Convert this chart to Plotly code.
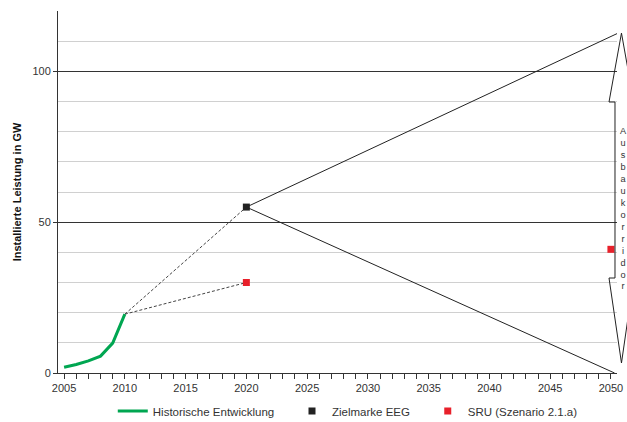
"""Installierte Leistung: historische Entwicklung und Ausbaukorridor bis 2050."""

import plotly.graph_objects as go

# historische Entwicklung (GW)
hist_years = [2005, 2006, 2007, 2008, 2009, 2010]
hist_values = [1.9, 2.8, 4.0, 5.6, 9.9, 19.5]

# Zielmarke EEG
eeg_years = [2020]
eeg_values = [55]

# SRU (Szenario 2.1.a)
sru_years = [2020, 2050]
sru_values = [30, 41]

# Ausbaukorridor ab 2020
corridor_upper_years = [2020, 2050.5]
corridor_upper_values = [55, 112.5]
corridor_lower_years = [2020, 2050.3]
corridor_lower_values = [55, 0]

x_tick_vals = [2005, 2010, 2015, 2020, 2025, 2030, 2035, 2040, 2045, 2050]
y_tick_vals = [0, 50, 100]

FONT = "Liberation Sans, Arial, sans-serif"
GREEN = "#00A651"
RED = "#E8202A"
DARK = "#222222"
PAD = "\u00a0" * 4  # widens legend entries a little

fig = go.Figure()

# dashed connectors from 2010 to the 2020 targets
for yr, val in [(eeg_years[0], eeg_values[0]), (sru_years[0], sru_values[0])]:
    fig.add_trace(go.Scatter(
        x=[hist_years[-1], yr],
        y=[hist_values[-1], val],
        mode="lines",
        line=dict(color="#444444", width=1, dash="3px,2px"),
        showlegend=False,
        hoverinfo="skip",
    ))

for xs, ys in [(corridor_upper_years, corridor_upper_values),
               (corridor_lower_years, corridor_lower_values)]:
    fig.add_trace(go.Scatter(
        x=xs, y=ys, mode="lines",
        line=dict(color=DARK, width=1),
        showlegend=False, hoverinfo="skip", cliponaxis=False,
    ))

fig.add_trace(go.Scatter(
    x=hist_years, y=hist_values, mode="lines",
    name="Historische Entwicklung" + PAD,
    line=dict(color=GREEN, width=3),
))
fig.add_trace(go.Scatter(
    x=eeg_years, y=eeg_values, mode="markers",
    name="Zielmarke EEG" + PAD,
    marker=dict(symbol="square", size=7, color=DARK),
    cliponaxis=False,
))
fig.add_trace(go.Scatter(
    x=sru_years, y=sru_values, mode="markers",
    name="SRU (Szenario 2.1.a)",
    marker=dict(symbol="square", size=7, color=RED),
    cliponaxis=False,
))

# brace on the right marking the corridor
brace = ("M 1.008 0.939 L 0.9857 0.7486 L 0.9964 0.7486 L 0.9964 0.2624 "
         "L 0.9857 0.2624 L 1.008 0.0276 L 1.03 0.2624 L 1.02 0.2624 "
         "L 1.02 0.7486 L 1.03 0.7486 Z")
fig.add_shape(type="path", path=brace, xref="paper", yref="paper",
              line=dict(color=DARK, width=1), layer="above")

fig.add_annotation(
    text="<br>".join("Ausbaukorridor"),
    xref="paper", yref="paper", x=1.0125, y=0.454,
    showarrow=False, font=dict(family=FONT, size=9.2, color="#333333"),
    xanchor="center", yanchor="middle",
)

fig.update_layout(
    width=627, height=422,
    margin=dict(l=58, r=10, t=11, b=49, autoexpand=False),
    plot_bgcolor="white", paper_bgcolor="white",
    font=dict(family=FONT, size=11, color="#333333"),
    showlegend=True,
    legend=dict(orientation="h", x=0.098, xanchor="left",
                yref="container", y=0.026, yanchor="middle",
                font=dict(size=11.5, color="#333333"), itemwidth=30),
)
fig.update_xaxes(
    range=[2004.5, 2050.5],
    tickvals=x_tick_vals,
    ticks="outside", ticklen=5, tickcolor="#333333",
    minor=dict(dtick=1, ticks="outside", ticklen=5, tickcolor="#333333", showgrid=False),
    showgrid=False, zeroline=False, automargin=False,
    showline=True, linecolor="#333333", linewidth=1,
)
fig.update_yaxes(
    range=[0, 120],
    tickvals=y_tick_vals,
    ticks="outside", ticklen=4, tickcolor="#333333",
    showgrid=True, gridcolor="#333333", gridwidth=1,
    minor=dict(dtick=10, showgrid=True, gridcolor="#d0d0d0", gridwidth=1),
    zeroline=False, automargin=False,
    showline=True, linecolor="#333333", linewidth=1,
    title=dict(text="<b>Installierte Leistung in GW</b>", font=dict(size=11, color="#111111"), standoff=8),
)

# the page's default body margin would shift the figure by 8px
fig.write_html("out.html", config={"displayModeBar": False},
               post_script="document.body.style.margin='0';")
